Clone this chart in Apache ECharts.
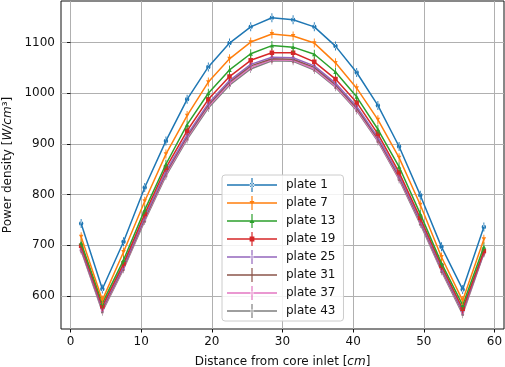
<!DOCTYPE html>
<html>
<head>
<meta charset="utf-8">
<script src="https://cdn.jsdelivr.net/npm/echarts@6/dist/echarts.min.js"></script>
<style>
html, body { margin: 0; padding: 0; background: #fff; }
#chart { width: 505px; height: 367px; }
</style>
</head>
<body>
<div id="chart"></div>
<script>
// positions along the core (cm)
var distance = [1.5, 4.5, 7.5, 10.5, 13.5, 16.5, 19.5, 22.5, 25.5, 28.5, 31.5, 34.5, 37.5, 40.5, 43.5, 46.5, 49.5, 52.5, 55.5, 58.5];
var plateNames = ['plate 1', 'plate 7', 'plate 13', 'plate 19', 'plate 25', 'plate 31', 'plate 37', 'plate 43'];
var plate1  = [743, 614, 707, 814, 906, 988, 1052, 1099, 1131, 1149, 1145, 1131, 1093, 1041, 976, 895, 799, 697, 613, 736];
var plate7  = [717, 592, 687, 787, 880, 956, 1022, 1068, 1101, 1117, 1113, 1099, 1060, 1010, 948, 873, 780, 677, 591, 712];
var plate13 = [705, 586, 671, 770, 860, 938, 1000, 1046, 1078, 1094, 1091, 1077, 1042, 993, 929, 855, 762, 665, 582, 697];
var plate19 = [699, 580, 664, 762, 853, 926, 988, 1033, 1065, 1080, 1080, 1062, 1028, 982, 920, 844, 754, 660, 575, 689];
var plate25 = [695, 576, 659, 756, 846, 918, 980, 1025, 1057, 1071, 1070, 1054, 1020, 974, 913, 838, 749, 655, 571, 687];
var plate31 = [693, 574, 657, 753, 843, 915, 977, 1022, 1054, 1068, 1067, 1051, 1017, 971, 910, 835, 747, 653, 569, 686];
var plate37 = [691, 572, 655, 751, 840, 912, 974, 1019, 1051, 1066, 1065, 1048, 1014, 968, 907, 832, 745, 651, 567, 685];
var plate43 = [690, 569, 653, 748, 837, 909, 971, 1016, 1048, 1064, 1063, 1046, 1012, 966, 905, 830, 742, 649, 564, 684];
var xTicks = [0, 10, 20, 30, 40, 50, 60];
var yTicks = [600, 700, 800, 900, 1000, 1100];

var plateValues = [plate1, plate7, plate13, plate19, plate25, plate31, plate37, plate43];
var colors = ['#1f77b4', '#ff7f0e', '#2ca02c', '#d62728', '#9467bd', '#8c564b', '#e377c2', '#7f7f7f'];
var markers = ['circle', 'down', 'up', 'square', 'dot', 'bar', 'dot', 'dot'];

// marker with its error bar, drawn in a 10x20 box
function markerPath(m) {
	var bar = 'M4,0H6V20H4Z';
	if (m === 'circle' || m === 'dot') return 'path://' + bar + 'M0,10A5,5 0 1 0 10,10A5,5 0 1 0 0,10Z';
	if (m === 'down') return 'path://' + bar + 'M0,5.7L10,5.7L5,14.3Z';
	if (m === 'up') return 'path://' + bar + 'M5,5.7L10,14.3L0,14.3Z';
	if (m === 'square') return 'path://' + bar + 'M0,5H10V15H0Z';
	return 'path://M0,0H10V20H0Z';
}
function markerSize(m) {
	if (m === 'dot') return [3, 8];
	if (m === 'bar') return [1, 8];
	return [4.5, 9];
}
// legend icon in a 50x14 box: line, error bar, marker
function legendPath(m) {
	var p = 'path://M0,6.3H50V7.7H0Z M24.4,0H25.6V14H24.4Z';
	if (m === 'circle') p += 'M22.6,7A2.4,2.4 0 1 0 27.4,7A2.4,2.4 0 1 0 22.6,7Z';
	if (m === 'dot') p += 'M23.4,7A1.6,1.6 0 1 0 26.6,7A1.6,1.6 0 1 0 23.4,7Z';
	if (m === 'down') p += 'M22.5,5L27.5,5L25,9.3Z';
	if (m === 'up') p += 'M25,4.7L27.5,9L22.5,9Z';
	if (m === 'square') p += 'M22.6,4.6H27.4V9.4H22.6Z';
	return p;
}

var myChart = echarts.init(document.getElementById('chart'));
var series = [];
var legendData = [];
for (var i = 0; i < plateNames.length; i++) {
	var pts = [];
	for (var j = 0; j < distance.length; j++) {
		pts.push([distance[j], plateValues[i][j]]);
	}
	series.push({
		name: plateNames[i],
		type: 'line',
		data: pts,
		symbol: markerPath(markers[i]),
		symbolSize: markerSize(markers[i]),
		symbolKeepAspect: false,
		showAllSymbol: true,
		color: colors[i],
		lineStyle: { width: 1.5, color: colors[i] },
		itemStyle: { color: colors[i], borderWidth: 0 },
		emphasis: { disabled: true },
		z: 10 - i
	});
	legendData.push({ name: plateNames[i], icon: legendPath(markers[i]) });
}

var axisText = { fontFamily: 'DejaVu Sans', fontSize: 12, color: '#111' };

var option = {
	animation: false,
	backgroundColor: '#fff',
	grid: {
		show: true,
		left: 61,
		right: 1,
		top: 1,
		bottom: 38,
		outerBoundsMode: 'none',
		containLabel: false,
		borderColor: '#111',
		borderWidth: 1
	},
	legend: {
		orient: 'vertical',
		left: 222,
		top: 175,
		data: legendData,
		itemWidth: 50,
		itemHeight: 14,
		itemGap: 4,
		symbolKeepAspect: false,
		padding: [3, 8, 3, 5],
		backgroundColor: 'rgba(255,255,255,0.85)',
		borderColor: '#cccccc',
		borderWidth: 1,
		borderRadius: 3,
		itemStyle: { borderWidth: 0 },
		textStyle: { fontFamily: 'DejaVu Sans', fontSize: 12, color: '#111', padding: [0, 0, 0, 4] }
	},
	xAxis: {
		type: 'value',
		min: -1.35,
		max: 61.35,
		name: '{n|Distance from core inlet [}{i|cm}{n|]}',
		nameLocation: 'middle',
		nameGap: 27,
		nameTextStyle: {
			rich: {
				n: axisText,
				i: { fontFamily: 'DejaVu Sans', fontSize: 12, color: '#111', fontStyle: 'italic' }
			}
		},
		axisLine: { show: false },
		axisTick: { show: true, length: 3.5, customValues: xTicks, lineStyle: { color: '#111' } },
		axisLabel: Object.assign({ customValues: xTicks, margin: 7, formatter: function (v) { return String(v); } }, axisText),
		splitLine: { show: true, lineStyle: { color: '#b0b0b0', width: 1 } }
	},
	yAxis: {
		type: 'value',
		min: 535,
		max: 1182,
		name: '{n|Power density [}{i|W/cm}{n|³]}',
		nameLocation: 'middle',
		nameGap: 45,
		nameRotate: 90,
		nameTextStyle: {
			rich: {
				n: axisText,
				i: { fontFamily: 'DejaVu Sans', fontSize: 12, color: '#111', fontStyle: 'italic' }
			}
		},
		axisLine: { show: false },
		axisTick: { show: true, length: 3.5, customValues: yTicks, lineStyle: { color: '#111' } },
		axisLabel: Object.assign({ customValues: yTicks, margin: 6, formatter: function (v) { return String(v); } }, axisText),
		splitLine: { show: true, lineStyle: { color: '#b0b0b0', width: 1 } }
	},
	series: series
};
myChart.setOption(option);
</script>
</body>
</html>
